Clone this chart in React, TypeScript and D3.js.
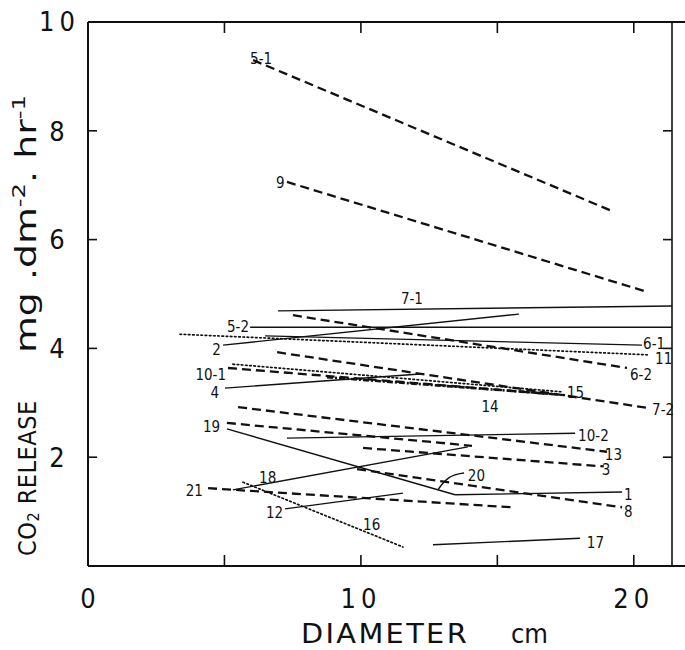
import React, { useEffect, useRef } from "react";
import * as d3 from "d3";

// regression lines, diameter (cm) vs CO2 release; x0,y0 -> x1,y1
const lineIds = ["5-1", "9", "7-1", "5-2", "2", "6-1", "11", "6-2", "7-2", "10-1", "15", "14", "4", "13", "19", "10-2", "3", "20", "1", "18", "8", "21", "12", "16", "17"];
const lineKinds = ["dash", "dash", "solid", "solid", "solid", "solid", "dot", "dash", "dash", "dash", "dot", "dashdot", "solid", "dash", "dash", "solid", "dash", "solid", "solid", "solid", "dash", "dash", "solid", "dot", "solid"];
const x0s = [6.05, 7.29, 6.96, 5.94, 4.95, 6.49, 3.37, 7.51, 6.93, 5.13, 5.31, 8.76, 5.02, 5.5, 5.09, 7.29, 10.08, 5.09, 13.45, 5.31, 9.86, 4.4, 7.22, 5.68, 12.64];
const y0s = [9.3, 7.06, 4.69, 4.39, 4.06, 4.23, 4.26, 4.61, 3.93, 3.64, 3.71, 3.47, 3.27, 2.92, 2.63, 2.35, 2.17, 2.52, 1.31, 1.4, 1.78, 1.43, 1.05, 1.54, 0.39];
const x1s = [19.13, 20.48, 21.4, 21.4, 15.79, 20.3, 20.59, 19.75, 20.59, 17.48, 17.4, 17.11, 12.17, 19.02, 14.07, 17.85, 18.9, 13.45, 19.57, 13.92, 19.57, 15.5, 11.54, 11.54, 18.03];
const y1s = [6.54, 5.04, 4.78, 4.39, 4.63, 4.06, 3.88, 3.64, 2.9, 3.14, 3.2, 3.16, 3.53, 2.1, 2.21, 2.44, 1.83, 1.31, 1.36, 2.19, 1.08, 1.08, 1.34, 0.35, 0.51];

// line labels: text, position in data units, anchor
const labelTexts = ["5-1", "9", "7-1", "5-2", "2", "6-1", "11", "6-2", "10-1", "4", "15", "14", "7-2", "19", "10-2", "13", "3", "18", "20", "21", "1", "8", "12", "16", "17"];
const labelXs = [5.94, 6.89, 11.87, 5.9, 4.87, 20.34, 20.78, 19.86, 5.06, 4.8, 17.55, 14.73, 20.67, 4.84, 17.96, 18.94, 18.83, 6.27, 13.92, 4.21, 19.64, 19.64, 7.15, 10.08, 18.28];
const labelYs = [9.23, 6.95, 4.82, 4.3, 3.88, 3.99, 3.71, 3.42, 3.42, 3.09, 3.09, 2.83, 2.78, 2.46, 2.3, 1.95, 1.67, 1.53, 1.56, 1.29, 1.21, 0.9, 0.88, 0.66, 0.33];
const labelAnchors = ["start", "start", "middle", "end", "end", "start", "start", "start", "end", "end", "start", "middle", "start", "end", "start", "start", "start", "start", "start", "end", "start", "start", "end", "start", "start"];

// leader from label 20 to its line
const leader20 = [[13.78, 1.71], [13.2, 1.66], [12.82, 1.4]];

const xTicks = [5, 10, 15, 20];
const yTicks = [2, 4, 6, 8];
const xTickLabels = [0, 10, 20];

const W = 685;
const H = 650;
const FONT = "'DejaVu Sans Condensed', 'DejaVu Sans', sans-serif";

const dashFor: Record<string, string | null> = {
  solid: null,
  dash: "9,5",
  dot: "1.6,2.6",
  dashdot: "6,2,2,2",
};
const widthFor: Record<string, number> = { solid: 1.4, dash: 2.3, dot: 1.7, dashdot: 2.6 };

export default function App() {
  const ref = useRef<SVGSVGElement>(null);

  useEffect(() => {
    if (!ref.current) return;
    const svg = d3.select(ref.current);
    svg.selectAll("*").remove();

    const x = d3.scaleLinear().domain([0, 21.4]).range([88, 672]);
    const y = d3.scaleLinear().domain([0, 10]).range([566, 22]);

    svg.append("rect").attr("width", W).attr("height", H).attr("fill", "#fff");

    // frame
    const g = svg.append("g").attr("stroke", "#111").attr("fill", "none");
    g.append("line").attr("x1", x(0)).attr("x2", x(0)).attr("y1", y(10)).attr("y2", y(0)).attr("stroke-width", 2);
    g.append("line").attr("x1", x(0)).attr("x2", W).attr("y1", y(10)).attr("y2", y(10)).attr("stroke-width", 2);
    g.append("line").attr("x1", x(0)).attr("x2", W).attr("y1", y(0)).attr("y2", y(0)).attr("stroke-width", 2);
    g.append("line").attr("x1", x(21.4)).attr("x2", x(21.4)).attr("y1", y(10)).attr("y2", y(0)).attr("stroke-width", 1.6);

    xTicks.forEach(t => {
      g.append("line").attr("x1", x(t)).attr("x2", x(t)).attr("y1", y(0)).attr("y2", y(0) - 11).attr("stroke-width", 1.6);
      g.append("line").attr("x1", x(t)).attr("x2", x(t)).attr("y1", y(10)).attr("y2", y(10) + 11).attr("stroke-width", 1.6);
    });
    yTicks.forEach(t => {
      g.append("line").attr("x1", x(0)).attr("x2", x(0) + 9).attr("y1", y(t)).attr("y2", y(t)).attr("stroke-width", 1.6);
      g.append("line").attr("x1", x(21.4)).attr("x2", x(21.4) - 9).attr("y1", y(t)).attr("y2", y(t)).attr("stroke-width", 1.6);
    });

    // tick labels
    const txt = svg.append("g").attr("fill", "#111").attr("font-family", FONT);
    yTicks.forEach(t => {
      txt.append("text").attr("x", 57).attr("y", y(t)).attr("dy", "0.36em")
        .attr("text-anchor", "middle").attr("font-size", 27).text(t);
    });
    txt.append("text").attr("x", 80).attr("y", 31)
      .attr("text-anchor", "end").attr("font-size", 27).attr("letter-spacing", 5).text("10");
    xTickLabels.forEach(t => {
      txt.append("text").attr("x", x(t)).attr("y", 608)
        .attr("text-anchor", "middle").attr("font-size", 27).attr("letter-spacing", t ? 5 : 0)
        .text(t);
    });

    // axis titles
    txt.append("text").attr("x", 301).attr("y", 643).attr("font-size", 27)
      .attr("textLength", 168).attr("lengthAdjust", "spacingAndGlyphs").attr("letter-spacing", 2).text("DIAMETER");
    txt.append("text").attr("x", 511).attr("y", 643).attr("font-size", 27).text("cm");

    const yt = txt.append("g").attr("transform", "translate(36,556) rotate(-90)");
    const t1 = yt.append("text").attr("x", 0).attr("y", 0).attr("font-size", 25).attr("letter-spacing", 0.5);
    t1.append("tspan").text("CO");
    t1.append("tspan").attr("font-size", 16).attr("dy", 3).text("2");
    t1.append("tspan").attr("dy", -3).text(" RELEASE");
    const t2 = yt.append("text").attr("x", 203).attr("y", 0).attr("font-size", 28)
      .attr("textLength", 258).attr("lengthAdjust", "spacingAndGlyphs");
    t2.append("tspan").text("mg .dm");
    t2.append("tspan").attr("font-size", 18).attr("dy", -11).text("-2");
    t2.append("tspan").attr("dy", 11).text(". hr");
    t2.append("tspan").attr("font-size", 18).attr("dy", -11).text("-1");

    // data lines
    const lines = lineIds.map((id, i) => ({ id, kind: lineKinds[i], pts: [[x0s[i], y0s[i]], [x1s[i], y1s[i]]] }));
    const path = d3.line<number[]>().x(d => x(d[0])).y(d => y(d[1]));
    svg.append("g").selectAll("path").data(lines).enter().append("path")
      .attr("d", d => path(d.pts))
      .attr("fill", "none")
      .attr("stroke", "#111")
      .attr("stroke-width", d => widthFor[d.kind])
      .attr("stroke-dasharray", d => dashFor[d.kind])
      .attr("stroke-linecap", d => (d.kind === "dot" ? "round" : "butt"));

    svg.append("path")
      .attr("d", d3.line<number[]>().x(d => x(d[0])).y(d => y(d[1])).curve(d3.curveBasis)(leader20))
      .attr("fill", "none").attr("stroke", "#111").attr("stroke-width", 1.4);

    // labels
    svg.append("g").selectAll("text").data(labelTexts).enter().append("text")
      .attr("x", (d, i) => x(labelXs[i]))
      .attr("y", (d, i) => y(labelYs[i]))
      .attr("text-anchor", (d, i) => labelAnchors[i])
      .attr("font-family", FONT)
      .attr("font-size", 15)
      .attr("fill", "#111")
      .text(d => d);
  }, []);

  return (
    <svg ref={ref} width={W} height={H} style={{ position: "absolute", left: 0, top: 0 }} />
  );
}
